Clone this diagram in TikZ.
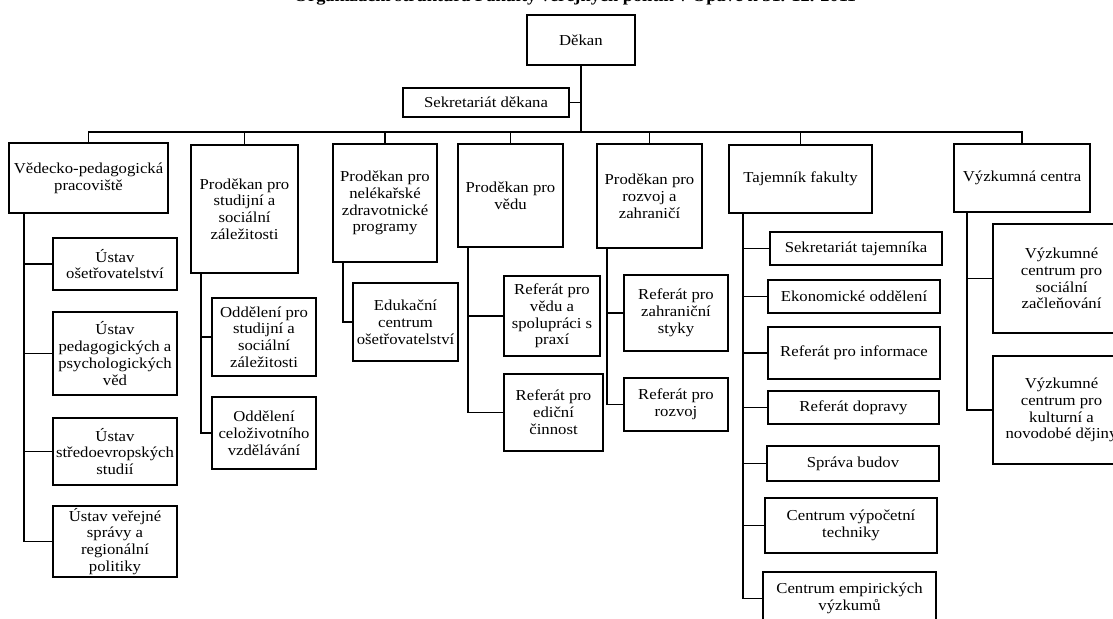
\documentclass[tikz,border=0pt]{standalone}
\usepackage{fontspec}
\setmainfont{Liberation Serif}[FakeStretch=1.1]
\usetikzlibrary{calc}
\newcommand\obox[6]{\node[box, minimum width={(#4-#2)*0.75}, minimum height={(#5-#3)*0.75}] (#1) at ({(#2+#4)/2},{(#3+#5)/2}) {#6};}
\begin{document}
\begin{tikzpicture}[x=0.75pt,y=-0.75pt,
  box/.style={draw, line width=1.4pt, inner sep=0pt, align=center, font=\fontsize{11.4}{12.6}\selectfont},
  conn/.style={line width=1.25pt}]
\clip (0,0) rectangle (1113,618);
\fill[white] (0,0) rectangle (1113,618);
\node[font=\bfseries\fontsize{12.5}{14}\selectfont, anchor=base, inner sep=0pt] (title) at (575,1.8) {Organizační struktura Fakulty veřejných politik v Opavě k 31. 12. 2011};
% boxes
\obox{dek}{526.7}{15}{635}{65}{Děkan}
\obox{sek}{403}{88}{569}{117}{Sekretariát děkana}
\obox{ved}{9}{143}{168}{213}{Vědecko-pedagogická\\pracoviště}
\obox{u1}{53}{238}{177}{290}{Ústav\\ošetřovatelství}
\obox{u2}{53}{312}{177}{395}{Ústav\\pedagogických a\\psychologických\\věd}
\obox{u3}{53}{418}{177}{485}{Ústav\\středoevropských\\studií}
\obox{u4}{53}{506}{177}{577}{Ústav veřejné\\správy a\\regionální\\politiky}
\obox{stu}{191}{145}{298}{273}{Proděkan pro\\studijní a\\sociální\\záležitosti}
\obox{o1}{212}{298}{316}{376}{Oddělení pro\\studijní a\\sociální\\záležitosti}
\obox{o2}{212}{397}{316}{469}{Oddělení\\celoživotního\\vzdělávání}
\obox{nel}{333}{144}{437}{262}{Proděkan pro\\nelékařské\\zdravotnické\\programy}
\obox{edu}{353}{283}{458}{361}{Edukační\\centrum\\ošetřovatelství}
\obox{vdu}{458}{144}{563}{247}{Proděkan pro\\vědu}
\obox{r1}{504}{276}{600}{356}{Referát pro\\vědu a\\spolupráci s\\praxí}
\obox{r2}{504}{374}{603}{451}{Referát pro\\ediční\\činnost}
\obox{roz}{597}{144}{702}{248}{Proděkan pro\\rozvoj a\\zahraničí}
\obox{z1}{624}{275}{728}{351}{Referát pro\\zahraniční\\styky}
\obox{z2}{624}{378}{728}{431}{Referát pro\\rozvoj}
\obox{taj}{729}{145}{872}{213}{Tajemník fakulty}
\obox{t1}{770}{232}{942}{265}{Sekretariát tajemníka}
\obox{t2}{768}{280}{940}{313}{Ekonomické oddělení}
\obox{t3}{768}{327}{940}{379}{Referát pro informace}
\obox{t4}{768}{391}{939}{424}{Referát dopravy}
\obox{t5}{767}{446}{939}{481}{Správa budov}
\obox{t6}{765}{498}{937}{553}{Centrum výpočetní\\techniky}
\obox{t7}{763}{572}{936}{625}{Centrum empirických\\výzkumů}
\obox{vyz}{954}{144}{1090}{212}{Výzkumná centra}
\obox{c1}{993}{224}{1130}{333}{Výzkumné\\centrum pro\\sociální\\začleňování}
\obox{c2}{993}{356}{1130}{464}{Výzkumné\\centrum pro\\kulturní a\\novodobé dějiny}
% top connectors
\coordinate (busy) at (0,132);
\draw[conn] (dek.south) -- (dek.south |- busy);
\draw[conn] (sek.east) -- (sek.east -| dek.south);
\draw[conn] (ved.north) |- (dek.south |- busy);
\draw[conn] (stu.north) |- (vyz.north |- busy) -- (vyz.north);
\foreach \n in {nel,vdu,roz,taj}{\draw[conn] (\n.north) -- (\n.north |- busy);}
% spines
\foreach \c in {u1,u2,u3,u4}{\draw[conn] ($(ved.south west)+(16,0)$) |- (\c.west);}
\foreach \c in {o1,o2}{\draw[conn] ($(stu.south west)+(10.7,0)$) |- (\c.west);}
\draw[conn] ($(nel.south west)+(10.6,0)$) |- (edu.west);
\foreach \c in {r1,r2}{\draw[conn] ($(vdu.south west)+(11,0)$) |- (\c.west);}
\foreach \c in {z1,z2}{\draw[conn] ($(roz.south west)+(11,0)$) |- (\c.west);}
\foreach \c in {t1,t2,t3,t4,t5,t6,t7}{\draw[conn] ($(taj.south west)+(15,0)$) |- (\c.west);}
\foreach \c in {c1,c2}{\draw[conn] ($(vyz.south west)+(13.7,0)$) |- (\c.west);}
\end{tikzpicture}
\end{document}
